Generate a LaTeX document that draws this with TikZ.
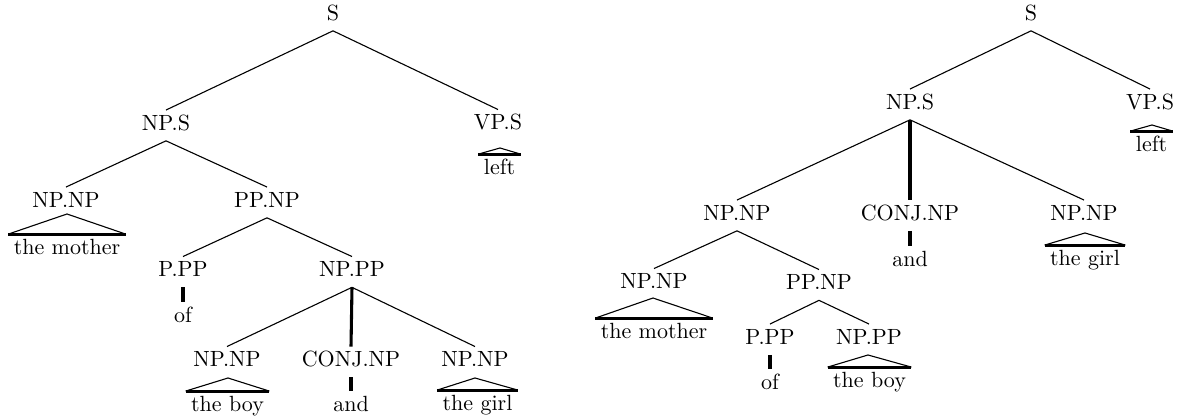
\documentclass[tikz,border=0pt]{standalone}
\begin{document}
\begin{tikzpicture}[x=0.4545pt,y=-0.4545pt,
  lab/.style={inner sep=0pt, text height=9.1pt, text depth=4.5pt, anchor=base},
  word/.style={inner xsep=2.3pt, inner ysep=0pt, text height=9.3pt, text depth=2pt, anchor=base},
  branch/.style={line width=0.5pt},
  unary/.style={line width=1.4pt},
  tribase/.style={line width=1.4pt}]
\newcommand\mytri[2]{\draw[branch] (#2.north west) -- (#1) -- (#2.north east);
  \draw[tribase] (#2.north west) -- (#2.north east);}
\useasboundingbox (0,0) rectangle (1181,419);
% ---------- left tree ----------
\node[lab] (LS) at (333,20.5) {S};
\node[lab] (LNPS) at (166,130.5) {NP.S};
\node[lab] (LVPS) at (498,130) {VP.S};
\node[lab] (LNPNPa) at (66,207.5) {NP.NP};
\node[lab] (LPPNP) at (267,207.5) {PP.NP};
\node[lab] (LPPP) at (183,277) {P.PP};
\node[lab] (LNPPP) at (352,277) {NP.PP};
\node[lab] (LNPNPb) at (227,367) {NP.NP};
\node[lab] (LCONJ) at (351,367) {CONJ.NP};
\node[lab] (LNPNPc) at (475,367) {NP.NP};
\node[word] (Lleft) at (499.5,175) {left};
\node[word] (Lmother) at (67,255) {the mother};
\node[word] (Lof) at (183,323) {of};
\node[word] (Lboy) at (227.5,412) {the boy};
\node[word] (Land) at (351,412) {and};
\node[word] (Lgirl) at (477.5,411) {the girl};
\coordinate (Lta) at (67,214);
\coordinate (Ltb) at (500,148);
\coordinate (Ltc) at (228,378);
\coordinate (Ltd) at (475,378);
\draw[branch] (LS.south) -- (LNPS.north);
\draw[branch] (LS.south) -- (LVPS.north);
\draw[branch] (LNPS.south) -- (LNPNPa.north);
\draw[branch] (LNPS.south) -- (LPPNP.north);
\draw[branch] (LPPNP.south) -- (LPPP.north);
\draw[branch] (LPPNP.south) -- (LNPPP.north);
\draw[branch] (LNPPP.south) -- (LNPNPb.north);
\draw[branch] (LNPPP.south) -- (LNPNPc.north);
\draw[unary] (LNPPP.south) -- (LCONJ.north);
\draw[unary] (LPPP.south) -- (Lof.north);
\draw[unary] (LCONJ.south) -- (Land.north);
\mytri{Lta}{Lmother}
\mytri{Ltb}{Lleft}
\mytri{Ltc}{Lboy}
\mytri{Ltd}{Lgirl}
% ---------- right tree ----------
\node[lab] (RS) at (1031,20.5) {S};
\node[lab] (RNPS) at (910,109.5) {NP.S};
\node[lab] (RVPS) at (1150,109.5) {VP.S};
\node[lab] (RNPNPa) at (737,220.5) {NP.NP};
\node[lab] (RCONJ) at (910,220.5) {CONJ.NP};
\node[lab] (RNPNPb) at (1084,220.5) {NP.NP};
\node[lab] (RNPNPc) at (654,289) {NP.NP};
\node[lab] (RPPNP) at (819,290) {PP.NP};
\node[lab] (RPPP) at (770,344.5) {P.PP};
\node[lab] (RNPPP) at (869,344.5) {NP.PP};
\node[word] (Rleft) at (1151.5,152) {left};
\node[word] (Rand) at (910,267) {and};
\node[word] (Rgirl) at (1085,266) {the girl};
\node[word] (Rmother) at (654,339) {the mother};
\node[word] (Rof) at (770,390) {of};
\node[word] (Rboy) at (869.5,388) {the boy};
\coordinate (Rta) at (1152,125);
\coordinate (Rtb) at (1085,233);
\coordinate (Rtc) at (653,298);
\coordinate (Rtd) at (868,355);
\draw[branch] (RS.south) -- (RNPS.north);
\draw[branch] (RS.south) -- (RVPS.north);
\draw[branch] (RNPS.south) -- (RNPNPa.north);
\draw[branch] (RNPS.south) -- (RNPNPb.north);
\draw[unary] (RNPS.south) -- (RCONJ.north);
\draw[unary] (RCONJ.south) -- (Rand.north);
\draw[branch] (RNPNPa.south) -- (RNPNPc.north);
\draw[branch] (RNPNPa.south) -- (RPPNP.north);
\draw[branch] (RPPNP.south) -- (RPPP.north);
\draw[branch] (RPPNP.south) -- (RNPPP.north);
\draw[unary] (RPPP.south) -- (Rof.north);
\mytri{Rta}{Rleft}
\mytri{Rtb}{Rgirl}
\mytri{Rtc}{Rmother}
\mytri{Rtd}{Rboy}
\end{tikzpicture}
\end{document}
